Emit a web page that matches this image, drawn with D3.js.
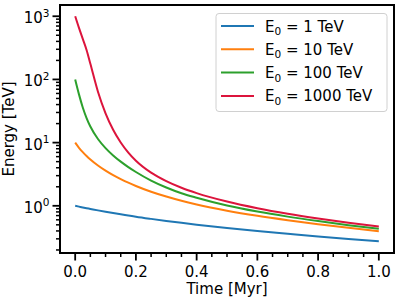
<!DOCTYPE html>
<html lang="en">
<head>
  <meta charset="UTF-8">
  <title>Energy vs Time</title>
  <script src="https://d3js.org/d3.v7.min.js"></script>
  <style>
    body { margin: 0; background: #fff; }
    text { font-family: "DejaVu Sans", sans-serif; fill: #000; }
  </style>
</head>
<body>
  <div id="chart"></div>
  <script>
    // time samples in Myr
    const times = [0, 0.0125, 0.025, 0.0375, 0.05, 0.075, 0.1, 0.125, 0.15, 0.175, 0.2,
                   0.25, 0.3, 0.35, 0.4, 0.5, 0.6, 0.7, 0.8, 0.9, 1.0];
    // energy in TeV
    const e1    = [1, 0.971, 0.943, 0.917, 0.893, 0.847, 0.806, 0.769, 0.735, 0.704, 0.673,
                   0.621, 0.576, 0.537, 0.503, 0.444, 0.398, 0.361, 0.328, 0.299, 0.274];
    const e10   = [10, 8.29, 7.07, 6.13, 5.40, 4.34, 3.60, 3.06, 2.65, 2.32, 2.06,
                   1.67, 1.40, 1.20, 1.05, 0.838, 0.695, 0.592, 0.512, 0.448, 0.395];
    const e100  = [100, 58, 36, 24.5, 18, 11.4, 8.19, 6.27, 5.0, 4.10, 3.43,
                   2.51, 1.95, 1.58, 1.34, 1.01, 0.81, 0.674, 0.573, 0.494, 0.432];
    const e1000 = [1000, 653, 438, 293, 177, 63.9, 29.1, 16.0, 10.06, 6.95, 5.18,
                   3.35, 2.46, 1.93, 1.587, 1.166, 0.914, 0.747, 0.629, 0.540, 0.471];
    const labels = ["1", "10", "100", "1000"];
    const colors = ["#1f77b4", "#ff7f0e", "#2ca02c", "#dc143c"];
    const seriesList = [e1, e10, e100, e1000];
    const xTicks = [0, 0.2, 0.4, 0.6, 0.8, 1.0];
    const yTicks = [1, 10, 100, 1000];

    const width = 399, height = 299;
    const mLeft = 60, mRight = 394, mTop = 5, mBottom = 253;

    const svg = d3.select("#chart").append("svg")
      .attr("width", width).attr("height", height);

    const x = d3.scaleLinear().domain([-0.05, 1.05]).range([mLeft, mRight]);
    const y = d3.scaleLog().domain([Math.pow(10, -0.747), Math.pow(10, 3.178)]).range([mBottom, mTop]);

    // minor ticks
    const xMinor = d3.range(0, 1.0001, 0.05).filter(v => !xTicks.some(t => Math.abs(t - v) < 1e-6));
    const yMinor = [];
    [0.1, 1, 10, 100].forEach(d => {
      for (let k = 2; k <= 9; k++) {
        const v = d * k;
        if (v >= y.domain()[0] && v <= y.domain()[1]) yMinor.push(v);
      }
    });

    const gx = svg.append("g").attr("transform", `translate(0,${mBottom})`);
    gx.selectAll(".minor").data(xMinor).enter().append("line")
      .attr("x1", d => x(d)).attr("x2", d => x(d))
      .attr("y1", 0).attr("y2", 4)
      .attr("stroke", "#000").attr("stroke-width", 1.5);
    gx.selectAll(".major").data(xTicks).enter().append("line")
      .attr("x1", d => x(d)).attr("x2", d => x(d))
      .attr("y1", 0).attr("y2", 7.5)
      .attr("stroke", "#000").attr("stroke-width", 1.8);
    gx.selectAll(".lbl").data(xTicks).enter().append("text")
      .attr("x", d => x(d)).attr("y", 23.5)
      .attr("text-anchor", "middle")
      .style("font-size", "15px")
      .text(d3.format(".1f"));

    const gy = svg.append("g").attr("transform", `translate(${mLeft},0)`);
    gy.selectAll(".minor").data(yMinor).enter().append("line")
      .attr("y1", d => y(d)).attr("y2", d => y(d))
      .attr("x1", 0).attr("x2", -4)
      .attr("stroke", "#000").attr("stroke-width", 1.5);
    gy.selectAll(".major").data(yTicks).enter().append("line")
      .attr("y1", d => y(d)).attr("y2", d => y(d))
      .attr("x1", 0).attr("x2", -7.5)
      .attr("stroke", "#000").attr("stroke-width", 1.8);
    const yl = gy.selectAll(".lbl").data(yTicks).enter().append("text")
      .attr("x", -10.5).attr("y", d => y(d) + 7)
      .attr("text-anchor", "end")
      .style("font-size", "15px");
    yl.append("tspan").text("10");
    yl.append("tspan").attr("dy", -6.5).style("font-size", "10.5px")
      .text(d => Math.round(Math.log10(d)));

    // lines
    const line = d3.line()
      .x((d, i) => x(times[i]))
      .y(d => y(d))
      .curve(d3.curveMonotoneX);

    svg.selectAll(".series").data(seriesList).enter().append("path")
      .attr("d", d => line(d))
      .attr("fill", "none")
      .attr("stroke", (d, i) => colors[i])
      .attr("stroke-width", 2);

    // frame
    svg.append("rect")
      .attr("x", mLeft).attr("y", mTop)
      .attr("width", mRight - mLeft).attr("height", mBottom - mTop)
      .attr("fill", "none").attr("stroke", "#000").attr("stroke-width", 2);

    // axis labels
    svg.append("text")
      .attr("x", (mLeft + mRight) / 2).attr("y", 294)
      .attr("text-anchor", "middle")
      .style("font-size", "15px")
      .text("Time [Myr]");
    svg.append("text")
      .attr("transform", `translate(13.5,${(mTop + mBottom) / 2}) rotate(-90)`)
      .attr("text-anchor", "middle")
      .style("font-size", "15px")
      .text("Energy [TeV]");

    // legend
    const lg = svg.append("g");
    lg.append("rect")
      .attr("x", 216).attr("y", 13.5).attr("width", 171).attr("height", 98)
      .attr("rx", 3).attr("fill", "#fff").attr("fill-opacity", 0.8)
      .attr("stroke", "#d0d0d0").attr("stroke-width", 1);
    labels.forEach((lab, i) => {
      const cy = 26 + i * 23.3;
      lg.append("line")
        .attr("x1", 221).attr("x2", 254).attr("y1", cy).attr("y2", cy)
        .attr("stroke", colors[i]).attr("stroke-width", 2);
      const t = lg.append("text").attr("x", 265).attr("y", cy + 5.5)
        .style("font-size", "15px");
      t.append("tspan").text("E");
      t.append("tspan").attr("dy", 3.5).style("font-size", "10.5px").text("0");
      t.append("tspan").attr("dy", -3.5).text(` = ${lab} TeV`);
    });
  </script>
</body>
</html>
